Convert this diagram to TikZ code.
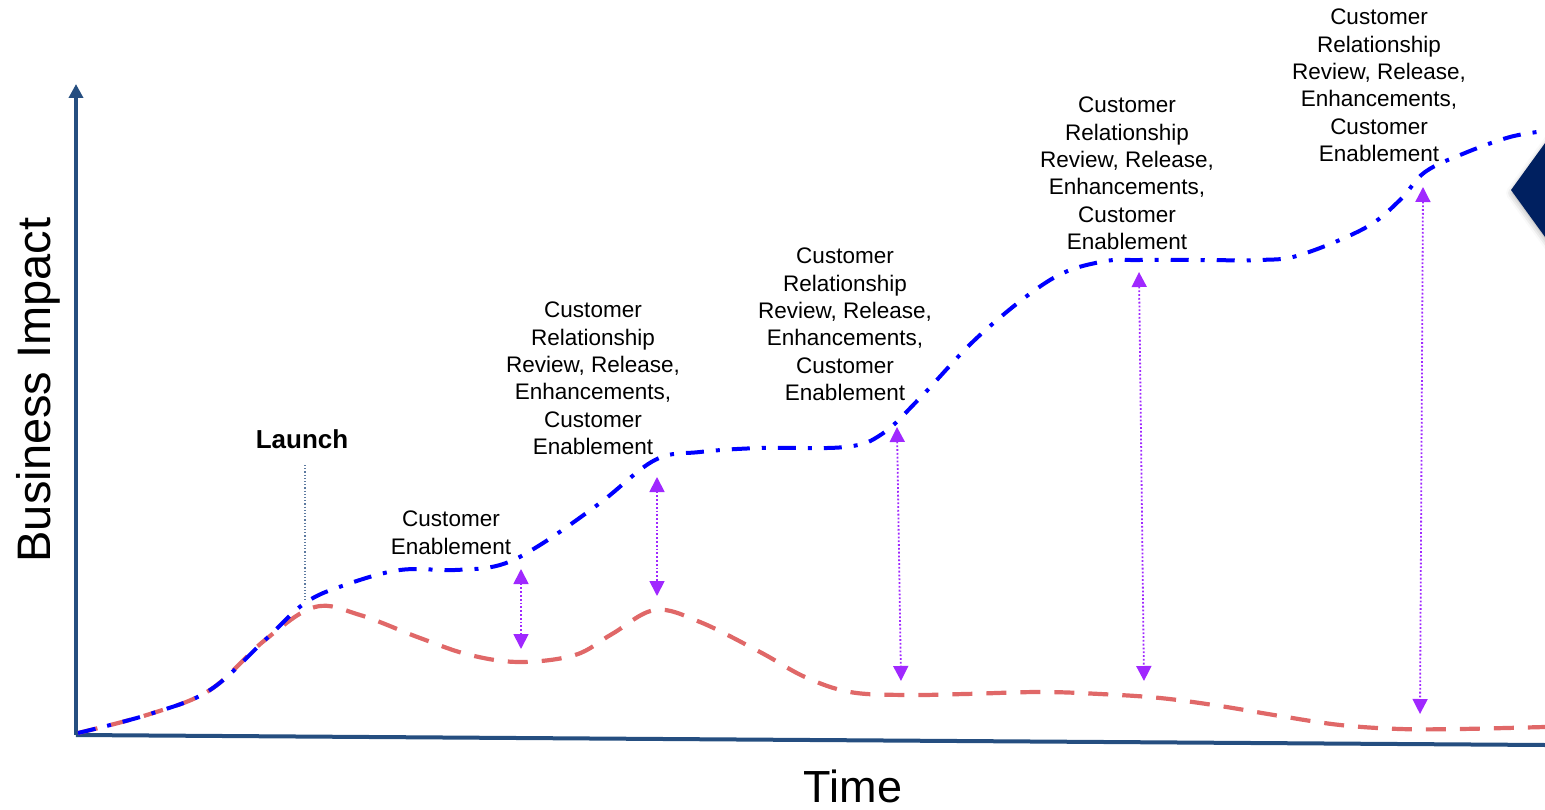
\documentclass[tikz,border=0pt]{standalone}
\usepackage{fontspec}
\setmainfont{Liberation Sans}
\usetikzlibrary{arrows.meta,shadows.blur}
\definecolor{axisblue}{RGB}{37,78,128}
\definecolor{planblue}{RGB}{0,0,255}
\definecolor{actualred}{RGB}{224,104,104}
\definecolor{gapviolet}{RGB}{160,40,255}
\definecolor{navy}{RGB}{0,32,96}
\tikzset{
  axisline/.style={draw=axisblue, line width=4pt},
  plancurve/.style={draw=planblue, line width=4pt, dash pattern=on 18pt off 12pt on 4pt off 12pt},
  actualcurve/.style={draw=actualred, line width=4.2pt, dash pattern=on 20pt off 14pt},
  gaparrow/.style={draw=gapviolet, line width=1.8pt, dotted,
    {Triangle[width=15pt,length=15pt]}-{Triangle[width=15pt,length=15pt]}},
  note/.style={align=center, inner sep=0pt, anchor=north,
    font=\fontsize{22.5}{27.3}\selectfont},
}
\begin{document}
\begin{tikzpicture}[x=1pt, y=-1pt]
\useasboundingbox (0,0) rectangle (1545,810);

% emblem on the right edge
\begin{scope}
  \clip (0,0) rectangle (1545,810);
  \fill[navy, blur shadow={shadow xshift=2pt, shadow yshift=-3pt, shadow blur radius=7pt}]
    (1511,190) -- (1590,81) -- (1669,190) -- (1590,299) -- cycle;
\end{scope}

% axes
\coordinate (origin) at (76,735);
\coordinate (ytop) at (76,84);
\coordinate (xend) at (1545,745);
\draw[axisline, -{Triangle[width=14pt,length=14pt]}] (origin) -- (ytop);
\draw[axisline] (origin) -- (xend);

\node[rotate=90, inner sep=0pt, font=\fontsize{47}{50}\selectfont] (ylab) at (38,390) {Business Impact};
\node[inner sep=0pt, font=\fontsize{45}{48}\selectfont] (xlab) at (853,786) {Time};

% launch marker
\node[inner sep=0pt, font=\fontsize{26}{29}\selectfont\bfseries] (launch) at (302,439) {Launch};
\coordinate (launchtop) at (305,465);
\coordinate (launchbot) at (305,600);
\draw[axisblue!75, line width=1.2pt, dotted] (launchtop) -- (launchbot);

% actual impact
\draw[actualcurve] plot[smooth, tension=0.6] coordinates {
  (78,733) (150,714) (210,690) (265,640) (315,607) (360,615) (420,638)
  (470,655) (520,662) (575,655) (612,634) (655,610) (700,622) (760,652)
  (805,677) (850,692) (905,695) (965,694) (1040,692) (1100,694)
  (1160,698) (1220,706) (1280,716) (1340,725) (1400,729) (1460,729) (1545,727)};

% planned impact
\draw[plancurve] plot[smooth, tension=0.6] coordinates {
  (78,733) (150,714) (210,690) (265,640) (305,603) (345,585) (400,570)
  (455,570) (500,565) (540,545) (600,503) (655,460) (700,452) (760,448)
  (845,447) (882,434) (920,398) (980,335) (1050,280) (1100,262)
  (1140,260) (1200,260) (1260,260) (1300,255) (1365,228) (1400,200)
  (1425,172) (1465,153) (1510,137) (1545,131)};

% gap arrows
\coordinate (g1t) at (521,569);  \coordinate (g1b) at (521,649);
\coordinate (g2t) at (657,477);  \coordinate (g2b) at (657,596);
\coordinate (g3t) at (897,427);  \coordinate (g3b) at (901,681);
\coordinate (g4t) at (1139,272); \coordinate (g4b) at (1144,681);
\coordinate (g5t) at (1423,187); \coordinate (g5b) at (1420,714);
\draw[gaparrow] (g1t) -- (g1b);
\draw[gaparrow] (g2t) -- (g2b);
\draw[gaparrow] (g3t) -- (g3b);
\draw[gaparrow] (g4t) -- (g4b);
\draw[gaparrow] (g5t) -- (g5b);

% stage notes
\node[note] (n1) at (451,511) {Customer\\Enablement};
\node[note] (n2) at (593,302) {Customer\\Relationship\\Review, Release,\\Enhancements,\\Customer\\Enablement};
\node[note] (n3) at (845,248) {Customer\\Relationship\\Review, Release,\\Enhancements,\\Customer\\Enablement};
\node[note] (n4) at (1127,97) {Customer\\Relationship\\Review, Release,\\Enhancements,\\Customer\\Enablement};
\node[note] (n5) at (1379,9) {Customer\\Relationship\\Review, Release,\\Enhancements,\\Customer\\Enablement};
\end{tikzpicture}
\end{document}
